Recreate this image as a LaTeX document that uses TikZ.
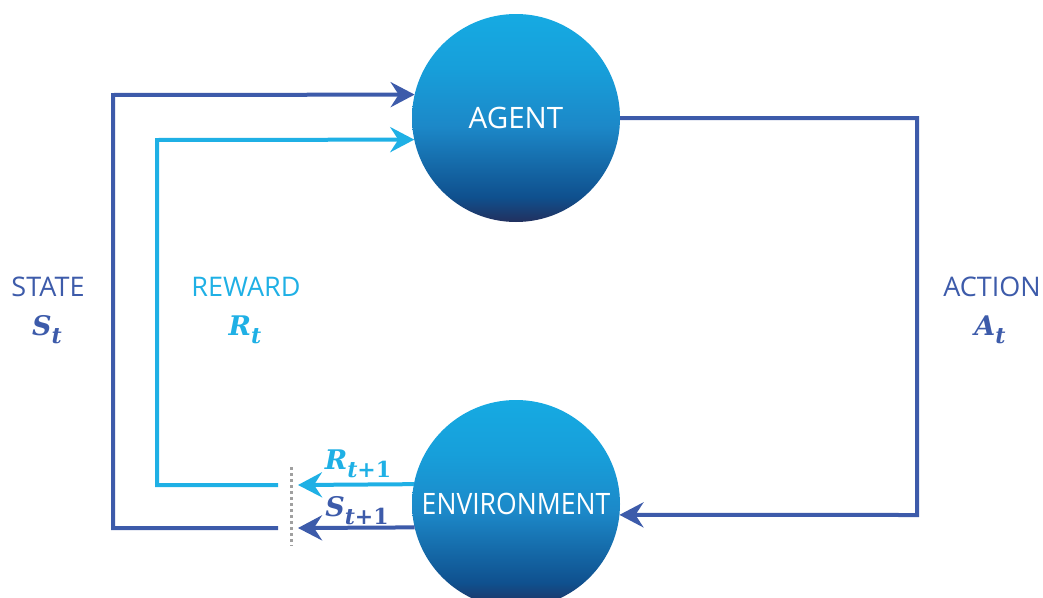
\documentclass[tikz,border=0pt]{standalone}
\usepackage{fontspec}
\setmainfont{Open Sans}
\newfontfamily\symfont{DejaVu Serif}
\usetikzlibrary{arrows.meta}

\definecolor{deepblue}{HTML}{3D5BAA}
\definecolor{skyblue}{HTML}{1FB0E5}
\definecolor{dotgray}{HTML}{A0A0A0}
\definecolor{ballnavy}{HTML}{22305E}
\definecolor{balldark}{HTML}{0F508E}
\definecolor{ballmid}{HTML}{1C88C8}
\definecolor{balllight}{HTML}{179FDA}
\definecolor{balltop}{HTML}{16AAE2}

% vertical gradient of the two circles (path box maps to 25bp..75bp)
\pgfdeclareverticalshading{ballshade}{100bp}{%
  color(0bp)=(ballnavy); color(25bp)=(ballnavy); color(31bp)=(balldark);
  color(48bp)=(ballmid); color(62bp)=(balllight); color(75bp)=(balltop);
  color(100bp)=(balltop)}

% symbol with a subscript, set in bold italic serif
\newcommand{\symlbl}[2]{{\symfont\bfseries\itshape\fontsize{27}{27}\selectfont #1\raisebox{-8pt}{\fontsize{22}{22}\selectfont #2}}}

\tikzset{
  ball/.style={circle, minimum size=208pt, inner sep=0pt, outer sep=0pt,
    shading=ballshade, text=white, font=\fontsize{29.5}{29.5}\selectfont},
  flow/.style={line width=4pt, miter limit=10},
  statecol/.style={flow, draw=deepblue},
  rewardcol/.style={flow, draw=skyblue},
  headtip/.style={-{Stealth[length=24pt, width=25pt, inset=8pt]}},
  word/.style={font=\fontsize{27}{27}\selectfont, inner sep=0pt},
}

\begin{document}
\begin{tikzpicture}[x=1pt, y=-1pt]
\useasboundingbox (0,0) rectangle (1043,597);

% agent and environment
\node[ball] (agent) at (516,118) {AGENT};
\node[ball] (env) at (516,504) {\scalebox{0.9}[1]{ENVIRONMENT}};

% boundary between time steps
\coordinate (bTop) at (291,467);
\coordinate (bBot) at (291,546);
\draw[dotgray, line width=3pt, dash pattern=on 3pt off 3pt] (bTop) -- (bBot);

% outputs of the environment
\coordinate (rNext) at (298,485);
\coordinate (sNext) at (298,528);
\draw[rewardcol, headtip] (env.169.5) -- (rNext);
\draw[statecol, headtip] (env.193.3) -- (sNext);

% feedback to the agent
\coordinate (rFrom) at (278,485);
\coordinate (sFrom) at (278,528);
\draw[rewardcol, headtip] (rFrom) -- (157,485) -- (157,140) -- (agent.192.2);
\draw[statecol, headtip] (sFrom) -- (113,528) -- (113,95) -- (agent.167.2);

% action sent to the environment
\draw[statecol, headtip] (agent.east) -- (917,118) -- (917,515) -- (env.-6.1);

% labels
\node[word, text=deepblue] (stateTxt) at (48,287) {STATE};
\node[text=deepblue, inner sep=0pt] (stateSym) at (47,330) {\symlbl{S}{t}};
\node[word, text=skyblue] (rewardTxt) at (246,287) {REWARD};
\node[text=skyblue, inner sep=0pt] (rewardSym) at (245,330) {\symlbl{R}{t}};
\node[word, text=deepblue] (actionTxt) at (992,287) {ACTION};
\node[text=deepblue, inner sep=0pt] (actionSym) at (990,330) {\symlbl{A}{t}};
\node[text=skyblue, inner sep=0pt] (rNextTxt) at (358,464) {\symlbl{R}{t\upshape+1}};
\node[text=deepblue, inner sep=0pt] (sNextTxt) at (357,511) {\symlbl{S}{t\upshape+1}};
\end{tikzpicture}
\end{document}
